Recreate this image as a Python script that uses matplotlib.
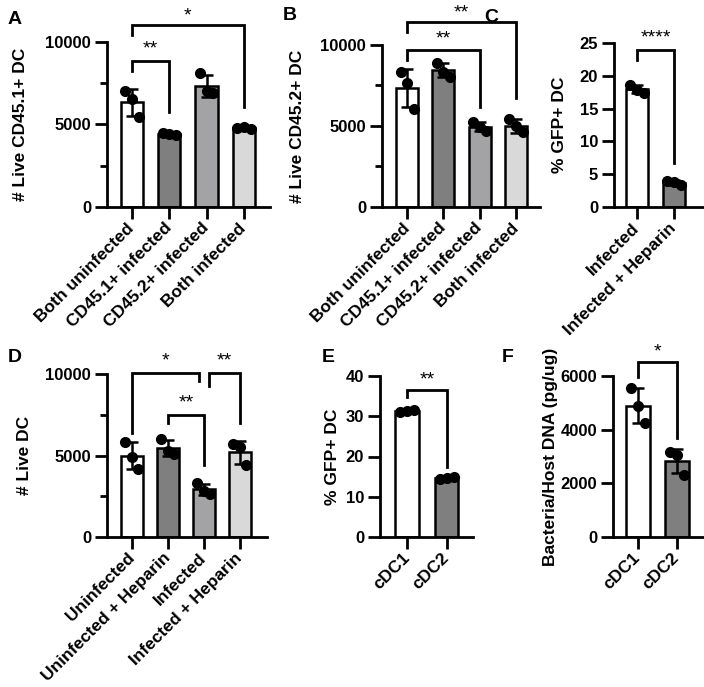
import numpy as np
import matplotlib
matplotlib.use("Agg")
import matplotlib.pyplot as plt
from matplotlib.ticker import MultipleLocator

plt.rcParams['font.family'] = ['Liberation Sans', 'DejaVu Sans']
plt.rcParams['font.weight'] = 'bold'

# ---------------- data ----------------
a_labels = ["Both uninfected", "CD45.1+ infected", "CD45.2+ infected", "Both infected"]
a_points = [[7000, 6550, 5450], [4500, 4450, 4350], [8100, 7000, 6900], [4800, 4850, 4700]]

b_labels = ["Both uninfected", "CD45.1+ infected", "CD45.2+ infected", "Both infected"]
b_points = [[8350, 7640, 6030], [8900, 8350, 8050], [5250, 4950, 4700], [5450, 5000, 4600]]

c_labels = ["Infected", "Infected + Heparin"]
c_points = [[18.6, 17.9, 17.4], [4.0, 3.8, 3.3]]

d_labels = ["Uninfected", "Uninfected + Heparin", "Infected", "Infected + Heparin"]
d_points = [[5850, 4900, 4200], [6000, 5300, 5100], [3300, 2800, 2650], [5700, 5500, 4400]]

e_labels = ["cDC1", "cDC2"]
e_points = [[31.0, 31.3, 31.6], [14.4, 14.7, 14.9]]

f_labels = ["cDC1", "cDC2"]
f_points = [[5550, 4900, 4250], [3150, 3050, 2300]]

# significance: (x1, x2, top, left_end, right_end, text, text_y)
a_sig = [(0, 1, 8850, 8240, 5760, "**", 9550),
         (0, 3, 11030, 10420, 6060, "*", 11600)]
b_sig = [(0, 2, 9690, 9070, 6170, "**", 10400),
         (0, 3, 11420, 10800, 6730, "**", 12000)]
c_sig = [(0, 1, 23.9, 22.4, 6.7, "****", 25.8)]
d_sig = [(0, 1.86, 10060, 6380, 9545, "*", 10800),
         (1, 2, 7500, 7010, 4440, "**", 8200),
         (2.14, 3, 10060, 9240, 7010, "**", 10800)]
e_sig = [(0, 1, 36.4, 34.8, 17.5, "**", 39.0)]
f_sig = [(0, 1, 6515, 5960, 3672, "*", 6900)]

colors4 = ["#ffffff", "#7f7f7f", "#a3a3a6", "#d9d9d9"]
colors2 = ["#ffffff", "#7f7f7f"]

W, H = 704, 687
fig = plt.figure(figsize=(W / 100, H / 100), dpi=100)


def make_ax(left, right, top, bottom):
    return fig.add_axes([left / W, 1 - bottom / H, (right - left) / W, (bottom - top) / H])


def panel(ax, labels, points, colors, ylim, major, minor, xlim, ylabel, sigs, letter, letter_xy, ylabel_x):
    n = len(labels)
    x = np.arange(n)
    means = [np.mean(p) for p in points]
    sds = [np.std(p, ddof=1) for p in points]
    ax.bar(x, means, width=0.6, color=colors[:n], edgecolor='black', linewidth=1.8, zorder=2)
    ax.errorbar(x, means, yerr=sds, fmt='none', ecolor='black', elinewidth=1.8,
                capsize=4.5, capthick=1.8, zorder=3, clip_on=False)
    offs = [-0.18, 0.0, 0.18]
    for i, p in enumerate(points):
        ax.plot([i + o for o in offs], p, 'o', color='black', ms=7, zorder=4, clip_on=False)
    ax.set_xlim(*xlim)
    ax.set_ylim(*ylim)
    ax.yaxis.set_major_locator(MultipleLocator(major))
    if minor:
        ax.yaxis.set_minor_locator(MultipleLocator(minor))
    ax.set_xticks(x)
    ax.set_xticklabels(labels, rotation=45, ha='right', va='center', rotation_mode='anchor',
                       fontsize=12.5, fontweight='bold')
    for s in ['top', 'right']:
        ax.spines[s].set_visible(False)
    for s in ['left', 'bottom']:
        ax.spines[s].set_linewidth(2.0)
    ax.tick_params(axis='y', which='major', length=8.5, width=2.0, labelsize=12, pad=3)
    ax.tick_params(axis='y', which='minor', length=5, width=2.0)
    ax.tick_params(axis='x', which='major', length=8.5, width=2.0, labelsize=12.5, pad=5)
    for t in ax.get_yticklabels():
        t.set_fontweight('bold')
    ax.set_ylabel(ylabel, fontsize=12.5, fontweight='bold')
    ax.yaxis.set_label_coords(ylabel_x, 0.5)
    for (x1, x2, top, le, re, txt, ty) in sigs:
        ax.plot([x1, x1, x2, x2], [le, top, top, re], color='black', lw=2.0,
                clip_on=False, solid_joinstyle='miter', zorder=5)
        ax.text((x1 + x2) / 2, ty, txt, ha='center', va='center', fontsize=14,
                fontweight='normal', clip_on=False)
    fig.text(letter_xy[0] / W, 1 - letter_xy[1] / H, letter, fontsize=14, fontweight='bold',
             ha='left', va='center')


axA = make_ax(107, 270, 42, 207)
panel(axA, a_labels, a_points, colors4, (0, 10000), 5000, 2500, (-0.67, 3.70),
      "# Live CD45.1+ DC", a_sig, "A", (8, 20), -0.485)

axB = make_ax(382, 540, 45, 207)
panel(axB, b_labels, b_points, colors4, (0, 10000), 5000, 2500, (-0.69, 3.66),
      "# Live CD45.2+ DC", b_sig, "B", (283, 16), -0.487)

axC = make_ax(614, 703, 43, 207)
panel(axC, c_labels, c_points, colors2, (0, 25), 5, None, (-0.62, 1.78),
      "% GFP+ DC", c_sig, "C", (484, 17), -0.528)

axD = make_ax(107, 267, 374, 537)
panel(axD, d_labels, d_points, colors4, (0, 10000), 5000, 2500, (-0.69, 3.75),
      "# Live DC", d_sig, "D", (8, 358), -0.469)

axE = make_ax(380, 473, 376, 537)
panel(axE, e_labels, e_points, colors2, (0, 40), 10, None, (-0.69, 1.67),
      "% GFP+ DC", e_sig, "E", (322, 358), -0.43)

axF = make_ax(613, 703, 376, 537)
panel(axF, f_labels, f_points, colors2, (0, 6000), 2000, None, (-0.64, 1.67),
      "Bacteria/Host DNA (pg/ug)", f_sig, "F", (502, 358), -0.61)

fig.savefig("out.png", dpi=100, facecolor='white')
